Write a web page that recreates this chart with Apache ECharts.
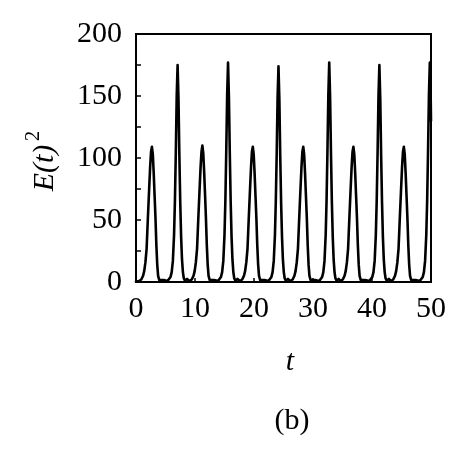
<!DOCTYPE html>
<html>
<head>
<meta charset="utf-8">
<script src="https://cdn.jsdelivr.net/npm/echarts@6/dist/echarts.min.js"></script>
<style>
html,body{margin:0;padding:0;background:#fff;}
#chart{width:469px;height:457px;}
</style>
</head>
<body>
<div id="chart"></div>
<script>
// time samples t and E(t)^2 values, peak by peak
const t = [
  0.0,
  0.5, 0.9, 1.2, 1.4, 1.6, 1.8, 2.0, 2.2, 2.4, 2.55, 2.7, 2.85, 3.0, 3.15, 3.3, 3.45, 3.6, 3.75, 3.95, 4.2, 4.7,
  5.35, 5.65, 5.85, 6.05, 6.25, 6.45, 6.6, 6.75, 6.9, 7.05, 7.2, 7.35, 7.5, 7.65, 7.8, 7.95, 8.1, 8.3, 8.65,
  9.05, 9.45, 9.75, 9.95, 10.15, 10.35, 10.55, 10.75, 10.95, 11.1, 11.25, 11.4, 11.55, 11.7, 11.85, 12.0, 12.15, 12.3, 12.5, 12.75, 13.25,
  13.9, 14.2, 14.4, 14.6, 14.8, 15.0, 15.15, 15.3, 15.45, 15.6, 15.75, 15.9, 16.05, 16.2, 16.35, 16.5, 16.65, 16.85, 17.2,
  17.6, 18.0, 18.3, 18.5, 18.7, 18.9, 19.1, 19.3, 19.5, 19.65, 19.8, 19.95, 20.1, 20.25, 20.4, 20.55, 20.7, 20.85, 21.05, 21.3, 21.8,
  22.45, 22.75, 22.95, 23.15, 23.35, 23.55, 23.7, 23.85, 24.0, 24.15, 24.3, 24.45, 24.6, 24.75, 24.9, 25.05, 25.2, 25.4, 25.75,
  26.15, 26.55, 26.85, 27.05, 27.25, 27.45, 27.65, 27.85, 28.05, 28.2, 28.35, 28.5, 28.65, 28.8, 28.95, 29.1, 29.25, 29.4, 29.6, 29.85, 30.35,
  31.05, 31.35, 31.55, 31.75, 31.95, 32.15, 32.3, 32.45, 32.6, 32.75, 32.9, 33.05, 33.2, 33.35, 33.5, 33.65, 33.8, 34.0, 34.35,
  34.65, 35.05, 35.35, 35.55, 35.75, 35.95, 36.15, 36.35, 36.55, 36.7, 36.85, 37.0, 37.15, 37.3, 37.45, 37.6, 37.75, 37.9, 38.1, 38.35, 38.85,
  39.55, 39.85, 40.05, 40.25, 40.45, 40.65, 40.8, 40.95, 41.1, 41.25, 41.4, 41.55, 41.7, 41.85, 42.0, 42.15, 42.3, 42.5, 42.85,
  43.2, 43.6, 43.9, 44.1, 44.3, 44.5, 44.7, 44.9, 45.1, 45.25, 45.4, 45.55, 45.7, 45.85, 46.0, 46.15, 46.3, 46.45, 46.65, 46.9, 47.4,
  48.1, 48.4, 48.6, 48.8, 49.0, 49.2, 49.35, 49.5, 49.65, 49.8, 49.95, 50.0
];
const E2 = [
  0.3,
  0.8, 2, 5, 9, 16, 27, 50, 72, 93, 105, 109, 103, 88, 70, 52, 30, 14, 5, 1.5, 0.5, 1.5,
  0.8, 2, 4, 8, 17, 38, 66, 105, 150, 175, 148, 102, 64, 36, 18, 8, 3, 1, 2.5,
  0.8, 2, 5, 9, 16, 27, 50, 72, 93, 105, 110, 104, 89, 71, 52, 30, 14, 5, 1.5, 0.5, 1.5,
  0.8, 2, 4, 8, 17, 38, 66, 106, 151, 177, 149, 103, 64, 36, 18, 8, 3, 1, 2.5,
  0.8, 2, 5, 9, 16, 27, 50, 72, 93, 105, 109, 103, 88, 70, 52, 30, 14, 5, 1.5, 0.5, 1.5,
  0.8, 2, 4, 8, 17, 38, 66, 104, 149, 174, 147, 101, 63, 36, 18, 8, 3, 1, 2.5,
  0.8, 2, 5, 9, 16, 27, 50, 72, 93, 105, 109, 103, 88, 70, 52, 30, 14, 5, 1.5, 0.5, 1.5,
  0.8, 2, 4, 8, 17, 38, 66, 106, 151, 177, 149, 103, 64, 36, 18, 8, 3, 1, 2.5,
  0.8, 2, 5, 9, 16, 27, 50, 72, 93, 105, 109, 103, 88, 70, 52, 30, 14, 5, 1.5, 0.5, 1.5,
  0.8, 2, 4, 8, 17, 38, 66, 105, 150, 175, 148, 102, 64, 36, 18, 8, 3, 1, 2.5,
  0.8, 2, 5, 9, 16, 27, 50, 72, 93, 105, 109, 103, 88, 70, 52, 30, 14, 5, 1.5, 0.5, 1.5,
  0.8, 2, 4, 8, 17, 38, 66, 106, 151, 177, 149, 130
];
const xTicks = [0, 10, 20, 30, 40, 50];
const yTicks = [0, 50, 100, 150, 200];

const FONT = '"Liberation Serif", "DejaVu Serif", serif';
const chart = echarts.init(document.getElementById('chart'), null, {renderer: 'canvas'});
const data = t.map((x, i) => [x, E2[i]]);

chart.setOption({
  animation: false,
  backgroundColor: '#fff',
  grid: {left: 136, top: 34, right: 38, bottom: 175, show: true, borderColor: '#000', borderWidth: 2, backgroundColor: 'transparent'},
  xAxis: {
    type: 'value', min: xTicks[0], max: xTicks[xTicks.length - 1], interval: 10,
    axisLine: {show: true, lineStyle: {color: '#000', width: 2}},
    axisTick: {show: true, inside: true, length: 4, lineStyle: {color: '#000', width: 1.5}},
    axisLabel: {color: '#000', fontFamily: FONT, fontSize: 30, margin: 12},
    splitLine: {show: false},
    minorSplitLine: {show: false}
  },
  yAxis: {
    type: 'value', min: yTicks[0], max: yTicks[yTicks.length - 1], interval: 50,
    axisLine: {show: true, lineStyle: {color: '#000', width: 2}},
    axisTick: {show: true, inside: true, length: 5, lineStyle: {color: '#000', width: 1.5}},
    minorTick: {show: true, splitNumber: 2, length: 5, lineStyle: {color: '#000', width: 1.5}},
    axisLabel: {color: '#000', fontFamily: FONT, fontSize: 30, margin: 14},
    splitLine: {show: false},
    minorSplitLine: {show: false},
    splitArea: {show: false}
  },
  series: [{
    type: 'line', data: data, showSymbol: false, symbol: 'none',
    smooth: false,
    lineStyle: {color: '#000', width: 2.6, join: 'round', cap: 'round'}, clip: true
  }],
  graphic: [
    {type: 'text', x: 290, y: 362, style: {text: 't', font: 'italic 30px ' + FONT, fill: '#000', textAlign: 'center', textVerticalAlign: 'middle'}},
    {type: 'text', x: 292, y: 421, style: {text: '(b)', font: '30px ' + FONT, fill: '#000', textAlign: 'center', textVerticalAlign: 'middle'}},
    {type: 'group', x: 45, y: 160, rotation: Math.PI / 2, children: [
      {type: 'text', x: -8, y: 0, style: {text: 'E(t)', font: 'italic 30px ' + FONT, fill: '#000', textAlign: 'center', textVerticalAlign: 'middle'}},
      {type: 'text', x: 24, y: -12, style: {text: '2', font: '21px ' + FONT, fill: '#000', textAlign: 'center', textVerticalAlign: 'middle'}}
    ]}
  ]
});
</script>
</body>
</html>
